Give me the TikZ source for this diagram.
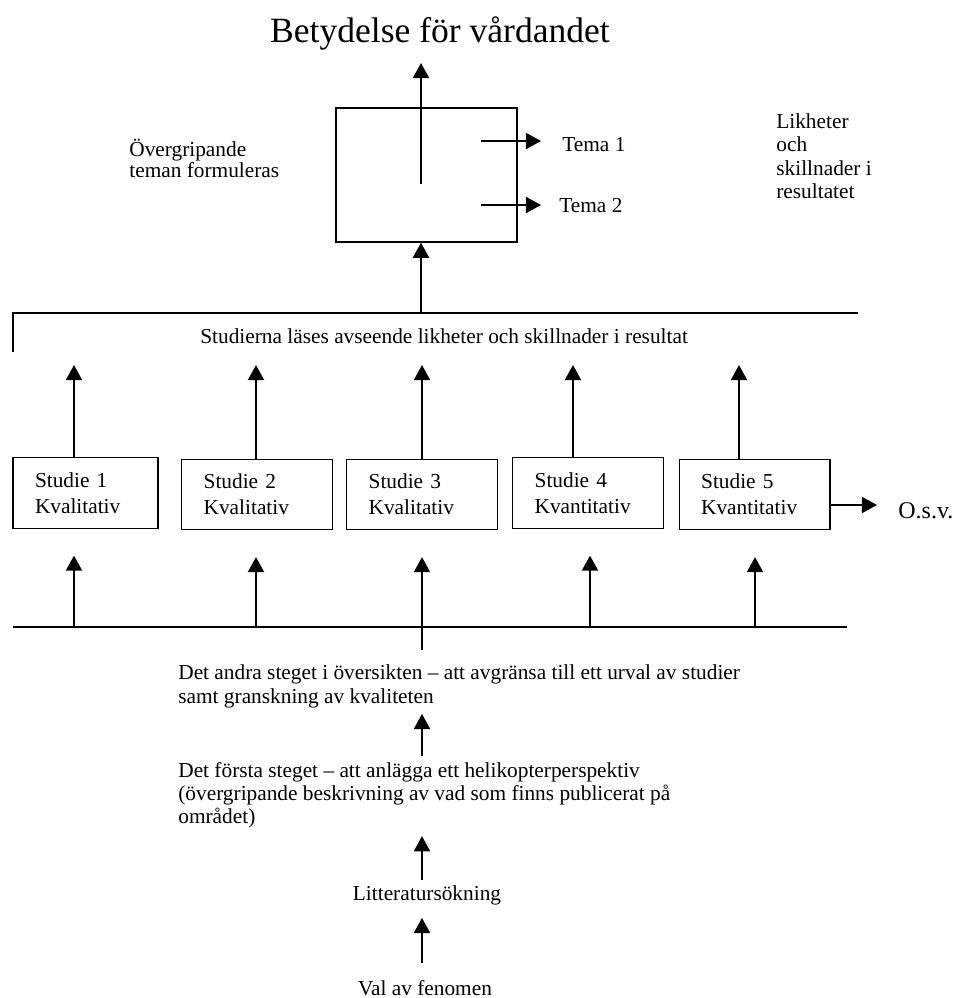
\documentclass[tikz,border=0pt]{standalone}
\usepackage{fontspec}
\setmainfont{Liberation Serif}
\usetikzlibrary{arrows.meta, positioning, calc}

\begin{document}
\begin{tikzpicture}[
    x=0.5625pt, y=-0.5625pt,
    txt/.style={
        inner sep=0pt,
        align=left,
        font=\fontsize{12}{13.5}\selectfont
    },
    studie/.style={
        rectangle,
        draw,
        line width=0.7pt,
        minimum height=39.7pt,
        text width=60pt,
        inner xsep=12.4pt,
        inner ysep=0pt,
        align=left,
        font=\fontsize{12}{14.6}\selectfont
    },
    line/.style={
        draw,
        -{Triangle[width=9pt, length=8.5pt]},
        line width=1.1pt
    },
    rule/.style={draw, line width=1.1pt}
]

    \useasboundingbox (0,0) rectangle (959,998);

    % rubrik och syntes
    \node [font=\fontsize{20}{24}\selectfont, inner sep=0pt, anchor=base] (titel) at (440,42) {Betydelse för vårdandet};
    \node [draw, line width=0.7pt, minimum width=101.8pt, minimum height=75.4pt] (syntes) at (426.5,175) {};

    \node [txt, anchor=north west, font=\fontsize{12}{11.8}\selectfont] (overgr) at (129,138.5) {Övergripande\\teman formuleras};
    \node [txt, anchor=base west] (tema1) at (562,151) {Tema 1};
    \node [txt, anchor=base west] (tema2) at (559,212) {Tema 2};
    \node [txt, anchor=north west, font=\fontsize{12}{13.1}\selectfont] (likheter) at (776,113.5) {Likheter\\och\\skillnader i\\resultatet};

    \node [txt, anchor=base west] (studierna) at (200,343) {Studierna läses avseende likheter och skillnader i resultat};

    % studierna
    \node [studie, text width=56.8pt] (s1) at (85.5,493) {Studie 1\\Kvalitativ};
    \node [studie] (s2) at (257,494.5) {Studie 2\\Kvalitativ};
    \node [studie] (s3) at (422,494.5) {Studie 3\\Kvalitativ};
    \node [studie] (s4) at (588,493) {Studie 4\\Kvantitativ};
    \node [studie] (s5) at (754.5,494.5) {Studie 5\\Kvantitativ};
    \node [txt, anchor=base west, font=\fontsize{13.5}{16}\selectfont] (osv) at (898,518) {O.s.v.};

    % stegen nedifrån
    \node [txt, anchor=north west] (steg2) at (178,664.5) {Det andra steget i översikten -- att avgränsa till ett urval av studier\\samt granskning av kvaliteten};
    \node [txt, anchor=north west, font=\fontsize{12}{12.9}\selectfont] (steg1) at (178,762) {Det första steget -- att anlägga ett helikopterperspektiv\\(övergripande beskrivning av vad som finns publicerat på\\området)};
    \node [txt, anchor=base] (litt) at (427,900) {Litteratursökning};
    \node [txt, anchor=base] (val) at (425,995) {Val av fenomen};

    \coordinate (las v) at (13,352);
    \coordinate (las h) at (858,313);
    \coordinate (las mid) at (421,313);
    \coordinate (syn mid) at (421,184);
    \coordinate (t1 in) at (481,141);
    \coordinate (t2 in) at (481,205);
    \coordinate (urval v) at (13,627);
    \coordinate (urval h) at (847,627);
    \coordinate (osv ut) at (830,505);

    \draw [rule] (las v) |- (las h);
    \draw [rule] (urval v) -- (urval h);

    \draw [line] (las mid) -- (syntes.south -| las mid);
    \draw [line, shorten >=7.3pt] (syn mid) -- (titel.south -| syn mid);
    \draw [line, shorten >=11.8pt] (t1 in) -- (t1 in -| tema1.west);
    \draw [line, shorten >=10.1pt] (t2 in) -- (t2 in -| tema2.west);

    % pilar upp fran studierna
    \coordinate (u1) at (74,365);
    \coordinate (u2) at (256,365);
    \coordinate (u3) at (422,365);
    \coordinate (u4) at (573,365);
    \coordinate (u5) at (739,365);
    \draw [line] (s1.north -| u1) -- (u1);
    \draw [line] (s2.north -| u2) -- (u2);
    \draw [line] (s3.north -| u3) -- (u3);
    \draw [line] (s4.north -| u4) -- (u4);
    \draw [line] (s5.north -| u5) -- (u5);

    % pilar upp till studierna
    \coordinate (b1) at (74,627);
    \coordinate (b2) at (256,627);
    \coordinate (b4) at (590,627);
    \coordinate (b5) at (755,627);
    \draw [line, shorten >=15pt] (b1) -- (s1.south -| b1);
    \draw [line, shorten >=15pt] (b2) -- (s2.south -| b2);
    \draw [line, shorten >=15pt] ([yshift=8.2pt]steg2.north -| s3) -- (s3.south);
    \draw [line, shorten >=15pt] (b4) -- (s4.south -| b4);
    \draw [line, shorten >=15pt] (b5) -- (s5.south -| b5);

    \draw [line, shorten >=11.8pt] (osv ut) -- (osv ut -| osv.west);

    \draw [line, shorten <=3.4pt, shorten >=3pt] (steg1.north -| s3) -- (steg2.south -| s3);
    \draw [line, shorten <=2.8pt, shorten >=4.5pt] (litt.north -| s3) -- (steg1.south -| s3);
    \draw [line, shorten <=9.6pt, shorten >=7.3pt] (val.north -| s3) -- (litt.south -| s3);

\end{tikzpicture}
\end{document}
